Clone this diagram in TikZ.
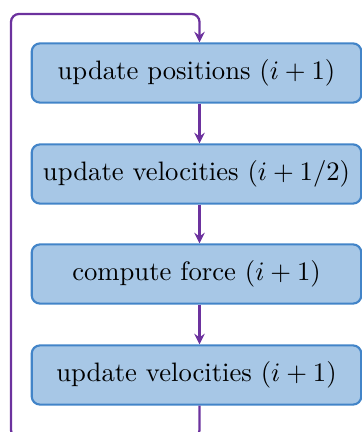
\documentclass[tikz,border=0pt]{standalone}
\usetikzlibrary{arrows.meta}
\definecolor{boxfill}{RGB}{167,199,230}
\definecolor{boxline}{RGB}{66,132,200}
\definecolor{flow}{RGB}{108,50,158}
\begin{document}
\begin{tikzpicture}[x=0.375pt,y=-0.375pt,
  stepbox/.style={draw=boxline,fill=boxfill,line width=0.8pt,rounded corners=3.1pt,
    minimum width=123.6pt,minimum height=22.2pt,inner sep=0pt,font=\normalsize},
  flowarrow/.style={draw=flow,line width=0.85pt,rounded corners=3pt,
    -{Stealth[length=4pt,width=4pt,inset=1.4pt]}}]
\useasboundingbox (0,0) rectangle (361,432);
\node[stepbox] (b1) at (196.5,73) {update positions $(i+1)$};
\node[stepbox] (b2) at (196.5,174) {update velocities $(i+1/2)$};
\node[stepbox] (b3) at (196.5,274) {compute force $(i+1)$};
\node[stepbox] (b4) at (196.5,375) {update velocities $(i+1)$};
\coordinate (ax) at (199.5,0);
\coordinate (lb) at (11,438);
\coordinate (lt) at (11,14);
\draw[flowarrow] (b1.south -| ax) -- (b2.north -| ax);
\draw[flowarrow] (b2.south -| ax) -- (b3.north -| ax);
\draw[flowarrow] (b3.south -| ax) -- (b4.north -| ax);
\draw[flowarrow] (b4.south -| ax) -- (ax |- lb) -- (lb) -- (lt) -- (ax |- lt) -- (b1.north -| ax);
\end{tikzpicture}
\end{document}
